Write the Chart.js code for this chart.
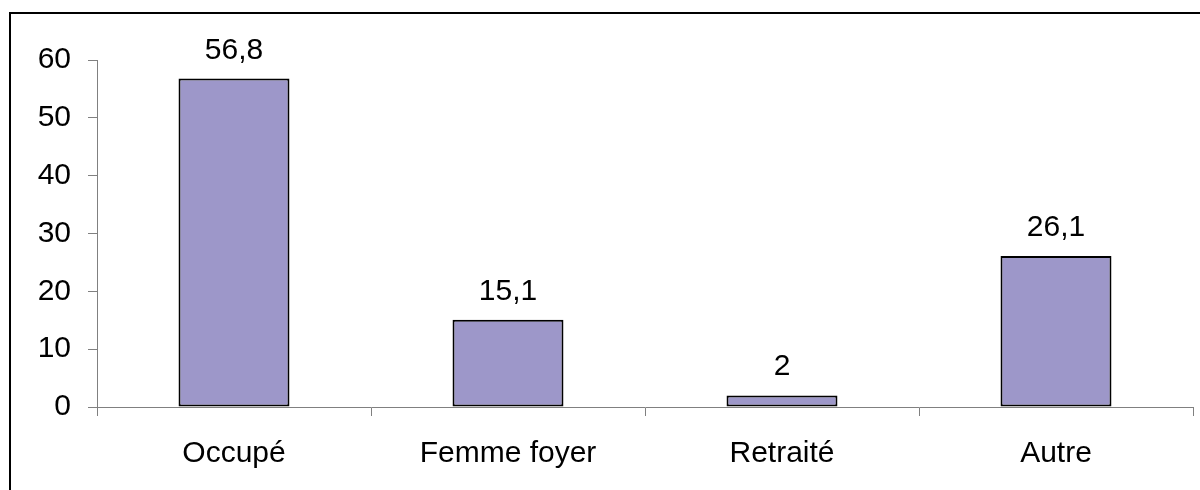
<!DOCTYPE html>
<html>
<head>
<meta charset="utf-8">
<script src="https://cdn.jsdelivr.net/npm/chart.js@4.4.1/dist/chart.umd.min.js"></script>
<style>
  html, body { margin: 0; padding: 0; background: #fff; overflow: hidden; }
  #wrap { position: relative; width: 1200px; height: 490px; }
  #frame { position: absolute; left: 9px; top: 12px; width: 1300px; height: 600px;
           border-left: 2px solid #000; border-top: 2px solid #000; pointer-events: none; }
  canvas { position: absolute; left: 0; top: 0; }
</style>
</head>
<body>
<div id="wrap">
  <canvas id="c" width="1200" height="490"></canvas>
  <div id="frame"></div>
</div>
<script>
const categories = ["Occupé", "Femme foyer", "Retraité", "Autre"];
const values = [56.8, 15.1, 2, 26.1];
const valueLabels = ["56,8", "15,1", "2", "26,1"];
const yTicks = [0, 10, 20, 30, 40, 50, 60];

const FONT = "'Liberation Sans', Arial, sans-serif";

const valueLabelPlugin = {
  id: 'valueLabels',
  afterDatasetsDraw(chart) {
    const ctx = chart.ctx;
    const meta = chart.getDatasetMeta(0);
    ctx.save();
    ctx.font = "30px " + FONT;
    ctx.fillStyle = "#000";
    ctx.textAlign = "center";
    ctx.textBaseline = "alphabetic";
    meta.data.forEach((bar, i) => {
      ctx.fillText(valueLabels[i], bar.x, bar.y - 20);
    });
    ctx.restore();
  }
};

new Chart(document.getElementById('c'), {
  type: 'bar',
  data: {
    labels: categories,
    datasets: [{
      data: values,
      backgroundColor: '#9D97C9',
      borderColor: '#000',
      borderWidth: 2,
      borderSkipped: false,
      categoryPercentage: 1,
      barPercentage: 0.405
    }]
  },
  options: {
    responsive: false,
    animation: false,
    layout: { padding: { top: 60, right: 7, left: 0, bottom: 0 } },
    plugins: { legend: { display: false }, tooltip: { enabled: false } },
    scales: {
      x: {
        offset: true,
        grid: { display: true, drawOnChartArea: false, offset: true, color: '#808080', tickLength: 9, lineWidth: 1 },
        border: { display: true, color: '#808080', width: 1 },
        ticks: { color: '#000', font: { family: FONT, size: 30 }, padding: 20, maxRotation: 0 },
        afterFit(scale) { scale.height = 83; }
      },
      y: {
        min: 0, max: 60,
        grid: { display: true, drawOnChartArea: false, color: '#808080', tickLength: 9, lineWidth: 1 },
        border: { display: true, color: '#808080', width: 1 },
        ticks: { stepSize: 10, color: '#000', font: { family: FONT, size: 30 }, padding: 17,
                 callback: (v) => yTicks.includes(v) ? String(v) : '' },
        afterFit(scale) { scale.width = 97; }
      }
    }
  },
  plugins: [valueLabelPlugin]
});
</script>
</body>
</html>
